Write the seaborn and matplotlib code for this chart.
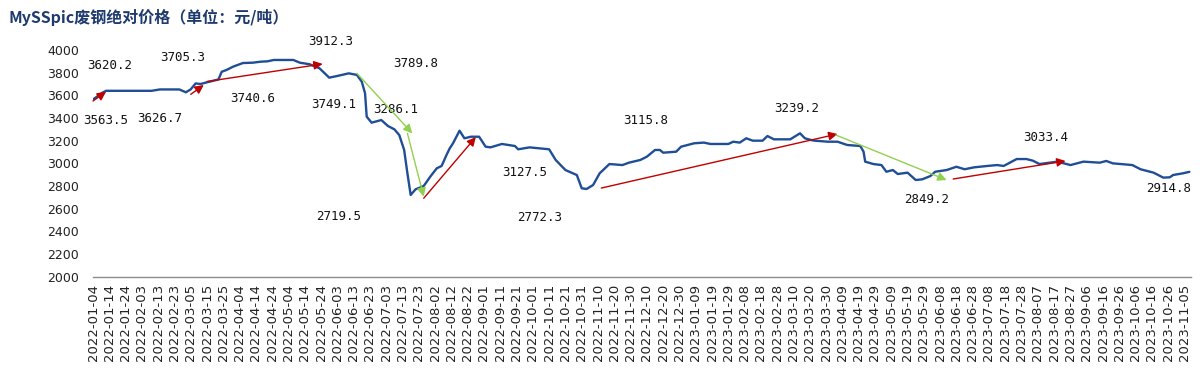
import matplotlib
matplotlib.use("Agg")
import matplotlib.pyplot as plt
import matplotlib.dates as mdates
import seaborn as sns
import pandas as pd

# ---------------- data ----------------
dates = [
    "2022-01-04", "2022-01-10", "2022-01-12", "2022-02-09", "2022-02-14", "2022-02-26",
    "2022-03-02", "2022-03-05", "2022-03-08", "2022-03-11", "2022-03-15", "2022-03-22",
    "2022-03-24", "2022-03-27", "2022-03-31", "2022-04-06", "2022-04-12", "2022-04-17",
    "2022-04-21", "2022-04-25", "2022-05-07", "2022-05-11", "2022-05-17", "2022-05-23",
    "2022-05-29", "2022-06-03", "2022-06-10", "2022-06-15", "2022-06-18", "2022-06-20",
    "2022-06-21", "2022-06-24", "2022-06-30", "2022-07-04", "2022-07-08", "2022-07-11",
    "2022-07-14", "2022-07-16", "2022-07-18", "2022-07-21", "2022-07-26", "2022-07-30",
    "2022-08-03", "2022-08-06", "2022-08-09", "2022-08-11", "2022-08-13", "2022-08-17",
    "2022-08-20", "2022-08-24", "2022-08-29", "2022-09-02", "2022-09-05", "2022-09-12",
    "2022-09-20", "2022-09-22", "2022-09-29", "2022-10-11", "2022-10-15", "2022-10-21",
    "2022-10-28", "2022-10-31", "2022-11-03", "2022-11-07", "2022-11-11", "2022-11-17",
    "2022-11-25", "2022-11-29", "2022-12-06", "2022-12-10", "2022-12-15", "2022-12-18",
    "2022-12-20", "2022-12-28", "2022-12-31", "2023-01-08", "2023-01-14", "2023-01-18",
    "2023-01-29", "2023-02-01", "2023-02-05", "2023-02-09", "2023-02-13", "2023-02-19",
    "2023-02-22", "2023-02-26", "2023-03-08", "2023-03-14", "2023-03-17", "2023-03-21",
    "2023-03-23", "2023-03-31", "2023-04-06", "2023-04-12", "2023-04-20", "2023-04-22",
    "2023-04-23", "2023-04-28", "2023-05-03", "2023-05-06", "2023-05-10", "2023-05-13",
    "2023-05-19", "2023-05-24", "2023-05-28", "2023-06-02", "2023-06-05", "2023-06-12",
    "2023-06-18", "2023-06-23", "2023-06-29", "2023-07-07", "2023-07-13", "2023-07-17",
    "2023-07-25", "2023-07-31", "2023-08-04", "2023-08-08", "2023-08-19", "2023-08-27",
    "2023-09-04", "2023-09-14", "2023-09-18", "2023-09-22", "2023-10-04", "2023-10-09",
    "2023-10-17", "2023-10-23", "2023-10-27", "2023-10-29", "2023-11-04", "2023-11-08",
]
prices = [
    3563.5, 3625, 3640, 3640, 3652, 3652,
    3627, 3653, 3705, 3700, 3715, 3740,
    3808, 3824, 3853, 3885, 3888, 3897,
    3900, 3912, 3912, 3888, 3874, 3839,
    3756, 3771, 3794, 3780, 3720, 3618,
    3412, 3359, 3382, 3330, 3300, 3250,
    3118, 2912, 2721, 2771, 2800, 2882,
    2956, 2977, 3074, 3133, 3177, 3288,
    3221, 3235, 3235, 3147, 3141, 3171,
    3153, 3124, 3141, 3124, 3030, 2941,
    2897, 2780, 2774, 2809, 2912, 2994,
    2985, 3006, 3030, 3059, 3118, 3118,
    3094, 3103, 3147, 3177, 3183, 3171,
    3171, 3191, 3183, 3221, 3200, 3200,
    3241, 3212, 3212, 3265, 3221, 3205,
    3200, 3191, 3191, 3162, 3153, 3103,
    3015, 2994, 2985, 2926, 2941, 2906,
    2918, 2853, 2859, 2888, 2926, 2941,
    2970, 2948, 2965, 2977, 2985, 2977,
    3038, 3038, 3023, 2994, 3015, 2985,
    3015, 3006, 3021, 3000, 2985, 2948,
    2918, 2874, 2877, 2897, 2912, 2925,
]

# trend arrows
arrow_from_dates = ["2022-01-04", "2022-03-05", "2022-03-15", "2022-06-15", "2022-07-16",
                    "2022-07-26", "2022-11-12", "2023-04-05", "2023-06-16"]
arrow_from_vals = [3550, 3609, 3722, 3794, 3265, 2692, 2782, 3250, 2862]
arrow_to_dates = ["2022-01-12", "2022-03-13", "2022-05-25", "2022-07-19", "2022-07-26",
                  "2022-08-27", "2023-04-06", "2023-06-12", "2023-08-24"]
arrow_to_vals = [3632, 3691, 3877, 3265, 2706, 3232, 3259, 2853, 3021]
arrow_kinds = ["up", "up", "up", "down", "down", "up", "up", "down", "up"]

# value labels
label_values = [3620.2, 3563.5, 3705.3, 3626.7, 3740.6, 3912.3, 3789.8, 3749.1, 3286.1,
                2719.5, 3127.5, 2772.3, 3115.8, 3239.2, 3033.4, 2849.2, 2914.8]
label_dates = ["2022-01-14", "2022-01-12", "2022-02-28", "2022-02-14", "2022-04-12",
               "2022-05-30", "2022-07-21", "2022-06-01", "2022-07-09", "2022-06-04",
               "2022-09-26", "2022-10-05", "2022-12-09", "2023-03-12", "2023-08-12",
               "2023-05-31", "2023-10-26"]
label_ys = [3859, 3374, 3938, 3400, 3568, 4073, 3883, 3515, 3471,
            2529, 2917, 2526, 3374, 3486, 3230, 2677, 2774]

title = "MySSpic废钢绝对价格（单位：元/吨）"

# ---------------- style ----------------
sns.set_theme(style="white")
plt.rcParams['font.family'] = ['DejaVu Sans']

W, H = 1200, 369
fig = plt.figure(figsize=(W / 100, H / 100), dpi=100)
left_px, right_px, top_px, bottom_px = 93, 1191, 50, 276.7
ax = fig.add_axes([left_px / W, 1 - bottom_px / H, (right_px - left_px) / W, (bottom_px - top_px) / H])

df = pd.DataFrame({"date": pd.to_datetime(dates), "price": prices})
sns.lineplot(data=df, x="date", y="price", ax=ax, color="#1F4E96", linewidth=1.7)

colors = {"up": "#C00000", "down": "#92D050"}
for fd, fv, td, tv, k in zip(arrow_from_dates, arrow_from_vals, arrow_to_dates, arrow_to_vals, arrow_kinds):
    ax.annotate("", xy=(pd.Timestamp(td), tv), xytext=(pd.Timestamp(fd), fv),
                arrowprops=dict(arrowstyle="-|>", color=colors[k], lw=1.0,
                                mutation_scale=13, shrinkA=0, shrinkB=0),
                zorder=4)

for v, d, y in zip(label_values, label_dates, label_ys):
    ax.text(pd.Timestamp(d), y, f"{v:.1f}", ha="center", va="center",
            fontsize=9, family="DejaVu Sans Mono", color="#111111")

ax.set_ylim(2000, 4000)
ax.set_yticks(range(2000, 4001, 200))
ax.set_xlim(pd.Timestamp("2022-01-04"), pd.Timestamp("2023-11-09"))
ticks = pd.date_range("2022-01-04", "2023-11-05", freq="10D")
ax.set_xticks(ticks)
ax.set_xticklabels([t.strftime("%Y-%m-%d") for t in ticks], rotation=90, fontsize=9.5, color="#222222")
ax.tick_params(axis="y", labelsize=9, colors="#222222", length=0, pad=10)
ax.tick_params(axis="x", length=0, pad=5)
ax.set_xlabel("")
ax.set_ylabel("")
for s in ["top", "right", "left"]:
    ax.spines[s].set_visible(False)
ax.spines["bottom"].set_color("#8C8C8C")
ax.spines["bottom"].set_linewidth(1.0)
ax.grid(False)

fig.text(8 / W, 1 - 17 / H, title, ha="left", va="center", fontsize=11.5, fontweight="bold",
         color="#1F3A6E", family=["Noto Sans CJK SC", "DejaVu Sans"])

fig.savefig("out.png", dpi=100)
